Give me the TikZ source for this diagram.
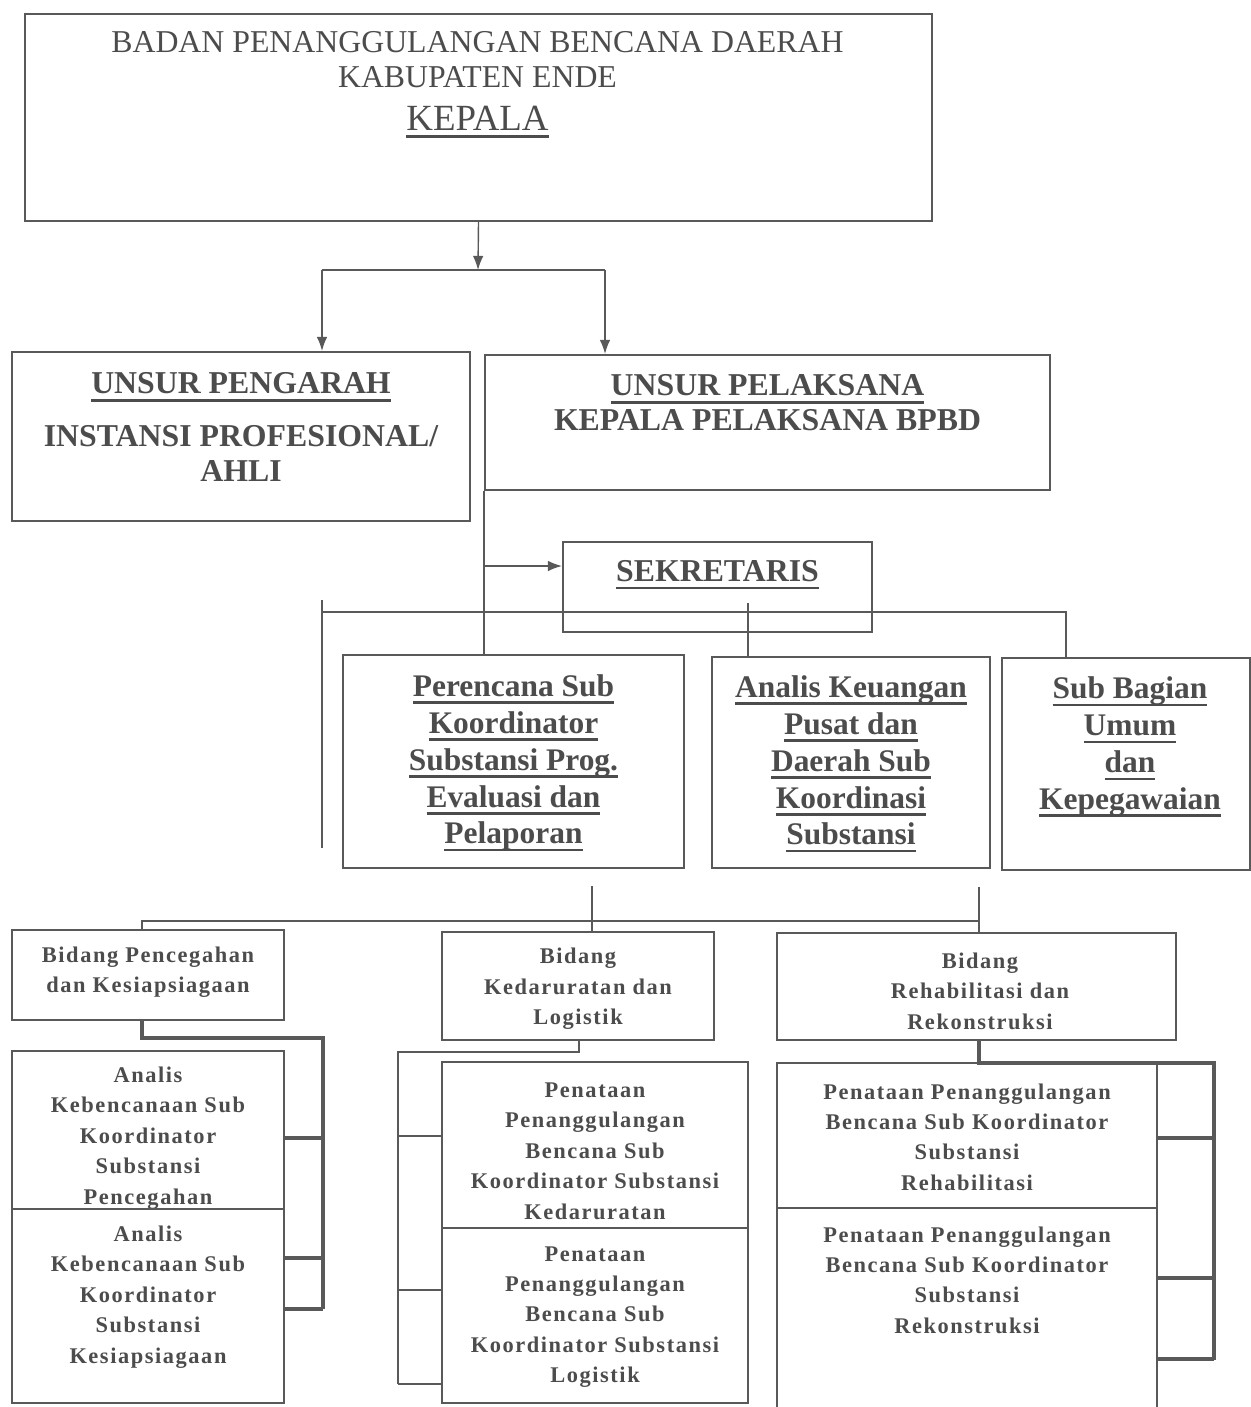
\documentclass[tikz,border=0pt]{standalone}
\usepackage{fontspec}
\setmainfont{Liberation Serif}
\newfontfamily\spacedfont[LetterSpace=7]{Liberation Serif}
\usetikzlibrary{arrows.meta}

\definecolor{ink}{gray}{0.3}
\definecolor{framegray}{gray}{0.35}

\newcommand{\fTop}{\fontsize{18.1pt}{19.8pt}\selectfont}
\newcommand{\fKep}{\fontsize{21pt}{24pt}\selectfont}
\newcommand{\fHead}{\bfseries\fontsize{18.1pt}{19.8pt}\selectfont}
\newcommand{\fUnit}{\bfseries\fontsize{17.9pt}{21pt}\selectfont}
\newcommand{\fBid}{\spacedfont\bfseries\fontsize{12.75pt}{17.3pt}\selectfont}
% thick underline below the baseline
\newcommand{\ulbar}[1]{\setbox0=\hbox{#1}\leavevmode\rlap{\vrule width\wd0 height -2.8pt depth 4.3pt}\box0}

\tikzset{
    box/.style 2 args={draw=framegray, line width=1.2pt, minimum width=#1*0.02cm, minimum height=#2*0.02cm, inner sep=0pt},
    lbl/.style={text=ink, align=center, inner sep=0pt},
    link/.style={draw=framegray, line width=0.8pt},
    brk/.style={draw=framegray, line width=2pt},
    arr/.style={link, -{Latex[length=8pt,width=6pt]}},
}

\begin{document}
\begin{tikzpicture}[x=0.02cm, y=-0.02cm]
        \useasboundingbox (0,0) rectangle (1251,1407);
        \clip (0,0) rectangle (1251,1407);
        \fill[white] (0,0) rectangle (1251,1407);

        % kepala
        \node[box={907}{207}] (kepala) at (478.5,117.5) {};
        \node[lbl, font=\fTop] (kepalaA) at (477.5,59.5) {BADAN PENANGGULANGAN BENCANA DAERAH\\KABUPATEN ENDE};
        \node[lbl, font=\fKep] (kepalaB) at (477.5,122) {\ulbar{KEPALA}};

        % unsur
        \node[box={458}{169}] (pengarah) at (241,436.5) {};
        \node[lbl, font=\fHead] (pengarahT) at (241,427) {\ulbar{UNSUR PENGARAH}\\[10pt]INSTANSI PROFESIONAL/\\AHLI};
        \node[box={565}{135}] (pelaksana) at (767.5,422.5) {};
        \node[lbl, font=\fHead] (pelaksanaT) at (767.5,403) {\ulbar{UNSUR PELAKSANA}\\KEPALA PELAKSANA BPBD};

        \node[box={309}{90}] (sekretaris) at (717.5,587) {};
        \node[lbl, font=\fHead] (sekretarisT) at (717.5,575) {\ulbar{SEKRETARIS}};

        \node[box={341}{213}] (perencana) at (513.5,761.5) {};
        \node[lbl, font=\fUnit] (perencanaT) at (513.5,763) {\ulbar{Perencana Sub}\\\ulbar{Koordinator}\\\ulbar{Substansi Prog.}\\\ulbar{Evaluasi dan}\\\ulbar{Pelaporan}};
        \node[box={278}{211}] (keuangan) at (851,762.5) {};
        \node[lbl, font=\fUnit] (keuanganT) at (851,764) {\ulbar{Analis Keuangan}\\\ulbar{Pusat dan}\\\ulbar{Daerah Sub}\\\ulbar{Koordinasi}\\\ulbar{Substansi}};
        \node[box={248}{212}] (umum) at (1126,764) {};
        \node[lbl, font=\fUnit] (umumT) at (1130,747) {\ulbar{Sub Bagian}\\\ulbar{Umum}\\\ulbar{dan}\\\ulbar{Kepegawaian}};

        % bidang
        \node[box={272}{90}] (pencegahan) at (148,975) {};
        \node[lbl, font=\fBid] (pencegahanT) at (148,972) {Bidang Pencegahan\\dan Kesiapsiagaan};
        \node[box={272}{108}] (kedaruratan) at (578,986) {};
        \node[lbl, font=\fBid] (kedaruratanT) at (578,989) {Bidang\\Kedaruratan dan\\Logistik};
        \node[box={399}{107}] (rehab) at (976.5,986.5) {};
        \node[lbl, font=\fBid] (rehabT) at (980,991) {Bidang\\Rehabilitasi dan\\Rekonstruksi};

        \node[box={272}{158}] (analisA) at (148,1130) {};
        \node[lbl, font=\fBid] (analisAT) at (148,1138) {Analis\\Kebencanaan Sub\\Koordinator\\Substansi\\Pencegahan};
        \node[box={272}{194}] (analisB) at (148,1306) {};
        \node[lbl, font=\fBid] (analisBT) at (148,1297) {Analis\\Kebencanaan Sub\\Koordinator\\Substansi\\Kesiapsiagaan};

        \node[box={306}{166}] (penataanA) at (595,1145) {};
        \node[lbl, font=\fBid] (penataanAT) at (595,1151) {Penataan\\Penanggulangan\\Bencana Sub\\Koordinator Substansi\\Kedaruratan};
        \node[box={306}{175}] (penataanB) at (595,1315.5) {};
        \node[lbl, font=\fBid] (penataanBT) at (595,1317) {Penataan\\Penanggulangan\\Bencana Sub\\Koordinator Substansi\\Logistik};
        \node[box={380}{145}] (penataanC) at (967,1135.5) {};
        \node[lbl, font=\fBid] (penataanCT) at (967,1137) {Penataan Penanggulangan\\Bencana Sub Koordinator\\Substansi\\Rehabilitasi};
        \node[box={380}{204}] (penataanD) at (967,1310) {};
        \node[lbl, font=\fBid] (penataanDT) at (967,1280) {Penataan Penanggulangan\\Bencana Sub Koordinator\\Substansi\\Rekonstruksi};

        % connectors
        \coordinate (split) at (478,270);
        \coordinate (jl) at (322,270);
        \coordinate (jr) at (605,270);
        \draw[arr] (kepala.south) -- (split);
        \draw[link] (jl) -- (jr);
        \draw[arr] (jl) -- (jl |- pengarah.north);
        \draw[arr] (jr) -- (jr |- pelaksana.north);

        \draw[link] (pelaksana.south west) -- (pelaksana.south west |- perencana.north);
        \coordinate (tap) at (485,566);
        \draw[arr] (tap) -- (tap -| sekretaris.west);
        \coordinate (bl) at (322,612);
        \coordinate (br) at (1066,612);
        \draw[link] (bl) -- (br) -- (br |- umum.north);
        \coordinate (stubtop) at (322,600);
        \coordinate (stubend) at (322,848);
        \draw[link] (stubtop) -- (stubend);
        \coordinate (sk) at (748,603);
        \draw[link] (sk) -- (sk |- keuangan.north);

        \coordinate (m1) at (592,886);
        \coordinate (m2) at (979,887);
        \coordinate (hl) at (142,921);
        \draw[link] (m1) -- (m1 |- kedaruratan.north);
        \draw[link] (hl |- pencegahan.north) -- (hl) -- (hl -| m2);
        \draw[link] (m2) -- (m2 |- rehab.north);

        \coordinate (lb) at (142,1038);
        \coordinate (lr) at (323,1038);
        \draw[brk] (lb |- pencegahan.south) -- (lb) -- (lr) -- (lr |- 0,1309);
        \foreach \yy in {1138,1258,1309}
            \draw[brk] (lr |- 0,\yy) -- (analisA.east |- 0,\yy);

        \coordinate (cb) at (579,1052);
        \coordinate (cl) at (398,1052);
        \draw[link] (cb |- kedaruratan.south) -- (cb) -- (cl) -- (cl |- 0,1384);
        \foreach \yy in {1136,1290,1384}
            \draw[link] (cl |- 0,\yy) -- (penataanA.west |- 0,\yy);

        \coordinate (rb) at (979,1063);
        \coordinate (rr) at (1214,1063);
        \draw[brk] (rb |- rehab.south) -- (rb) -- (rr) -- (rr |- 0,1360);
        \foreach \yy in {1138,1278,1359}
            \draw[brk] (rr |- 0,\yy) -- (penataanC.east |- 0,\yy);
\end{tikzpicture}
\end{document}
